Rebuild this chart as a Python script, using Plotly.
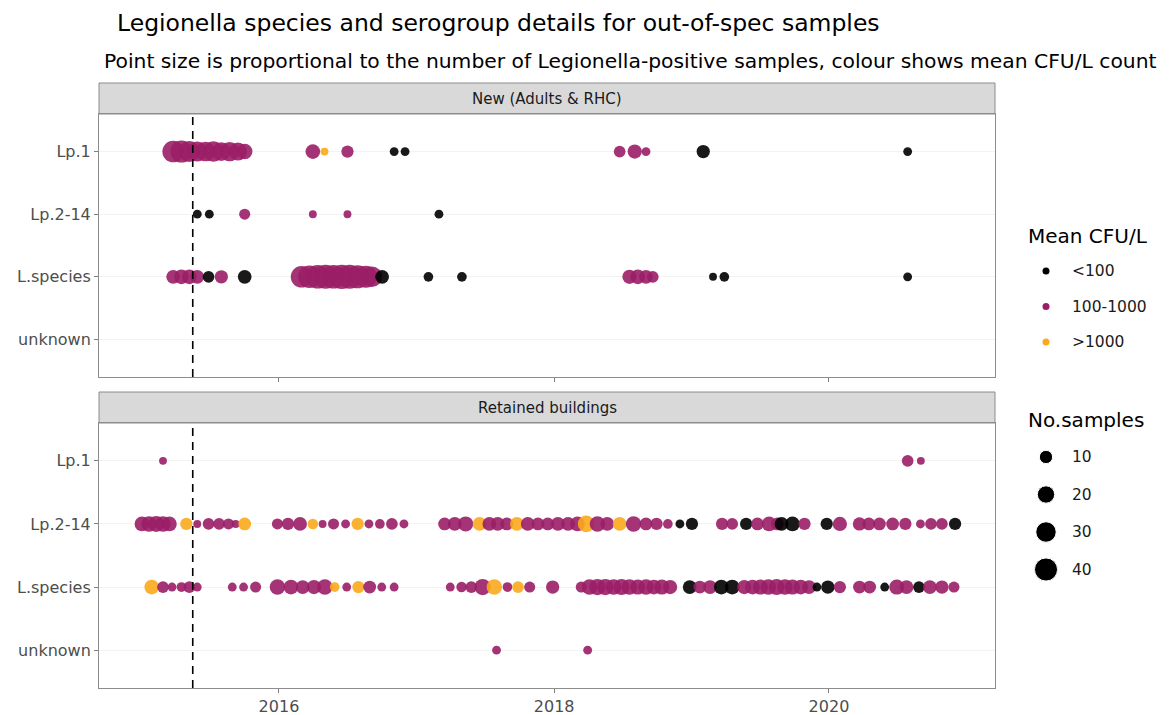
import numpy as np
import plotly.graph_objects as go

# ---------------- data ----------------
L, M, H = "<100", "100-1000", ">1000"
cfu_levels = [L, M, H]
species_levels = ["Lp.1", "Lp.2-14", "L.species", "unknown"]
facets = ["New (Adults & RHC)", "Retained buildings"]
size_breaks = [10, 20, 30, 40]
cutoff_date = "2015-05-17"

# New (Adults & RHC)
new_lp1_date = ["2015-03-26", "2015-04-17", "2015-05-08", "2015-05-29", "2015-06-20", "2015-07-11",
                "2015-08-01", "2015-08-23", "2015-09-14", "2015-10-02", "2016-03-31", "2016-05-01",
                "2016-07-01", "2016-11-02", "2016-12-01", "2018-06-24", "2018-08-03", "2018-09-02",
                "2019-02-01", "2020-07-28"]
new_lp1_n = [34, 36, 32, 28, 27, 30, 24, 26, 22, 15, 13, 2, 8, 3, 3, 7, 12, 3, 10, 3]
new_lp1_cfu = [M, M, M, M, M, M, M, M, M, M, M, H, M, L, L, M, M, M, L, L]

new_lp214_date = ["2015-05-29", "2015-06-30", "2015-10-02", "2016-03-31", "2016-07-01", "2017-03-01"]
new_lp214_n = [3, 3, 6, 2, 2, 3]
new_lp214_cfu = [L, L, M, M, M, L]

new_lsp_date = ["2015-03-26", "2015-04-17", "2015-05-08", "2015-05-29", "2015-06-28", "2015-08-01",
                "2015-10-02", "2016-03-01", "2016-03-22", "2016-04-13", "2016-05-04", "2016-05-25",
                "2016-06-16", "2016-07-07", "2016-07-28", "2016-08-19", "2016-09-04", "2016-10-01",
                "2017-02-01", "2017-05-01", "2018-07-20", "2018-08-11", "2018-09-02", "2018-09-20",
                "2019-02-27", "2019-03-29", "2020-07-28"]
new_lsp_n = [11, 13, 13, 11, 7, 10, 11, 34, 38, 42, 44, 42, 45, 44, 40, 36, 30, 11,
             4, 4, 12, 13, 11, 7, 2, 4, 3]
new_lsp_cfu = [M, M, M, M, L, M, L, M, M, M, M, M, M, M, M, M, M, L,
               L, L, M, M, M, M, L, L, L]

# Retained buildings
ret_lp1_date = ["2015-02-27", "2020-07-28", "2020-09-01"]
ret_lp1_n = [2, 7, 2]
ret_lp1_cfu = [M, M, M]

ret_lp214_date = ["2015-01-02", "2015-01-21", "2015-02-09", "2015-02-27", "2015-03-16", "2015-04-30",
                  "2015-05-29", "2015-06-28", "2015-07-26", "2015-08-20", "2015-09-08", "2015-10-02",
                  "2015-12-28", "2016-01-25", "2016-02-26", "2016-03-31", "2016-04-26", "2016-05-25",
                  "2016-06-26", "2016-07-28", "2016-08-27", "2016-09-25", "2016-10-27", "2016-11-28",
                  "2017-03-16", "2017-04-12", "2017-05-11", "2017-06-17", "2017-07-13", "2017-08-04",
                  "2017-08-28", "2017-09-24", "2017-10-23", "2017-11-19", "2017-12-15", "2018-01-11",
                  "2018-02-07", "2018-03-04", "2018-03-27", "2018-04-26", "2018-05-22", "2018-06-24",
                  "2018-07-31", "2018-09-02", "2018-09-30", "2018-10-30", "2018-12-01", "2019-01-02",
                  "2019-03-23", "2019-04-19", "2019-05-26", "2019-06-25", "2019-07-26", "2019-08-17",
                  "2019-08-28", "2019-09-26", "2019-10-28", "2019-12-26", "2020-01-30", "2020-03-22",
                  "2020-04-16", "2020-05-14", "2020-06-18", "2020-07-22", "2020-08-31", "2020-09-28",
                  "2020-10-27", "2020-12-01"]
ret_lp214_n = [13, 15, 16, 15, 13, 8, 2, 7, 7, 6, 2, 9,
               6, 8, 11, 5, 2, 6, 3, 8, 3, 4, 7, 3,
               9, 11, 14, 11, 11, 11, 9, 11, 11, 9, 9, 11,
               11, 13, 18, 15, 11, 11, 15, 9, 8, 4, 3, 8,
               8, 7, 8, 9, 13, 9, 11, 13, 8, 8, 12, 10,
               9, 9, 9, 8, 3, 7, 7, 8]
ret_lp214_cfu = [M, M, M, M, M, H, M, M, M, M, M, H,
                 M, M, M, H, M, M, M, H, M, M, M, M,
                 M, M, M, H, M, M, M, H, M, M, M, M,
                 M, M, H, M, M, H, M, M, M, M, L, L,
                 M, M, L, M, M, M, L, L, M, L, M, M,
                 M, M, M, M, M, M, M, L]

ret_lsp_date = ["2015-01-28", "2015-02-27", "2015-03-23", "2015-04-17", "2015-05-08", "2015-05-29",
                "2015-08-30", "2015-09-29", "2015-10-31", "2015-12-28", "2016-02-02", "2016-03-04",
                "2016-04-03", "2016-05-02", "2016-05-28", "2016-06-29", "2016-07-30", "2016-08-29",
                "2016-09-30", "2016-11-02",
                "2017-03-31", "2017-04-30", "2017-05-26", "2017-06-25", "2017-07-26", "2017-08-30",
                "2017-09-27", "2017-10-28", "2017-12-28",
                "2018-03-14", "2018-04-05", "2018-04-26", "2018-05-17", "2018-06-08", "2018-06-29",
                "2018-07-20", "2018-08-11", "2018-09-02", "2018-09-23", "2018-10-14", "2018-11-05",
                "2018-12-27", "2019-01-23", "2019-02-19", "2019-03-21", "2019-04-19", "2019-05-21",
                "2019-06-12", "2019-07-03", "2019-07-24", "2019-08-15", "2019-09-06", "2019-09-26",
                "2019-10-18", "2019-11-09", "2019-11-30", "2019-12-29", "2020-01-30", "2020-03-22",
                "2020-04-18", "2020-05-28", "2020-06-29", "2020-07-25", "2020-08-27", "2020-09-25",
                "2020-10-27", "2020-11-28"]
ret_lsp_n = [13, 7, 3, 4, 7, 3, 3, 3, 6, 15, 13, 11, 12, 15, 4, 3, 8, 9, 3, 3,
             3, 5, 7, 17, 15, 4, 7, 6, 10,
             6, 15, 17, 17, 15, 16, 15, 14, 15, 13, 14, 12,
             11, 9, 11, 13, 13, 12, 13, 14, 15, 16, 15, 14,
             13, 11, 3, 10, 8, 9, 9, 3, 14, 11, 7, 11, 10, 6]
ret_lsp_cfu = [H, M, M, M, M, M, M, M, M, M, M, M, M, M, H, M, H, M, M, M,
               M, M, M, M, H, M, H, M, M,
               M, M, M, M, M, M, M, M, M, M, M, M,
               L, M, M, L, L, M, M, M, M, M, M, M,
               M, M, L, L, M, M, M, L, M, M, L, M, M, M]

ret_unk_date = ["2017-08-01", "2018-03-31"]
ret_unk_n = [3, 3]
ret_unk_cfu = [M, M]

groups = [
    (0, "Lp.1", new_lp1_date, new_lp1_n, new_lp1_cfu),
    (0, "Lp.2-14", new_lp214_date, new_lp214_n, new_lp214_cfu),
    (0, "L.species", new_lsp_date, new_lsp_n, new_lsp_cfu),
    (1, "Lp.1", ret_lp1_date, ret_lp1_n, ret_lp1_cfu),
    (1, "Lp.2-14", ret_lp214_date, ret_lp214_n, ret_lp214_cfu),
    (1, "L.species", ret_lsp_date, ret_lsp_n, ret_lsp_cfu),
    (1, "unknown", ret_unk_date, ret_unk_n, ret_unk_cfu),
]

# ---------------- styling ----------------
cfu_colors = {L: "#000000", M: "#9A1E66", H: "#FBA91B"}
FONT = "DejaVu Sans"
OFF = 8                       # page offset of the plot div
W, HGT = 1173 - OFF, 715 - OFF
ML, MR, MT, MB = 99 - OFF, 0, 83 - OFF, 27
PW, PH = W - ML - MR, HGT - MT - MB


def px_x(p):
    """page x pixel -> paper x"""
    return (p - OFF - ML) / PW


def px_y(p):
    """page y pixel -> paper y"""
    return (HGT - MB - (p - OFF)) / PH


def size_scale(n):
    return 3.5 + 3.1 * np.sqrt(n)


ypos = {s: len(species_levels) - 1 - i for i, s in enumerate(species_levels)}

main_dom_x = [0, px_x(995)]
panel_dom = [[px_y(377), px_y(114)], [0, px_y(423)]]
strip_dom = [[px_y(114), px_y(83)], [px_y(423), px_y(392)]]

fig = go.Figure()

for fi, sp, d, n, c in groups:
    ax = "" if fi == 0 else "2"
    fig.add_trace(go.Scatter(
        x=d, y=[ypos[sp]] * len(d), mode="markers",
        marker=dict(size=[size_scale(v) for v in n], color=[cfu_colors[k] for k in c],
                    opacity=0.9, line=dict(width=0)),
        xaxis="x" + ax, yaxis="y" + ax, showlegend=False,
        hovertemplate="%{x}<br>n=%{text}<extra></extra>", text=n,
    ))

axis_common = dict(showline=True, mirror=True, linecolor="#8C8C8C", linewidth=1,
                   ticks="outside", ticklen=4, tickcolor="#7F7F7F",
                   tickfont=dict(family=FONT, size=16, color="#4D4D4D"), zeroline=False)
xrange = ["2014-09-10", "2021-03-17"]
fig.update_layout(
    xaxis=dict(domain=main_dom_x, anchor="y", type="date", range=xrange, showgrid=False,
               showticklabels=False, dtick="M24", tick0="2016-01-01", **axis_common),
    xaxis2=dict(domain=main_dom_x, anchor="y2", type="date", range=xrange, showgrid=False,
                dtick="M24", tick0="2016-01-01", tickformat="%Y", matches="x", **axis_common),
    yaxis=dict(domain=panel_dom[0], anchor="x", range=[-0.6, 3.6],
               tickvals=[ypos[s] for s in species_levels], ticktext=species_levels,
               showgrid=True, gridcolor="#F3F3F3", **axis_common),
    yaxis2=dict(domain=panel_dom[1], anchor="x2", range=[-0.6, 3.6],
                tickvals=[ypos[s] for s in species_levels], ticktext=species_levels,
                showgrid=True, gridcolor="#F3F3F3", **axis_common),
    xaxis3=dict(domain=[px_x(1003), 1.0], anchor="y3", range=[1003, 1173], visible=False),
    yaxis3=dict(domain=[0, 1], anchor="x3", range=[688, 83], visible=False),
)

# cutoff dashed line in both panels
for ax in ["", "2"]:
    fig.add_shape(type="line", xref="x" + ax, yref="y" + ax + " domain",
                  x0=cutoff_date, x1=cutoff_date, y0=0, y1=1,
                  line=dict(color="#000000", width=1.6, dash="8px,6px"))

# facet strips
for i, lab in enumerate(facets):
    fig.add_shape(type="rect", xref="paper", yref="paper", x0=main_dom_x[0], x1=main_dom_x[1],
                  y0=strip_dom[i][0], y1=strip_dom[i][1], fillcolor="#D9D9D9",
                  line=dict(color="#8C8C8C", width=1), layer="below")
    fig.add_annotation(text=lab, xref="paper", yref="paper", x=sum(main_dom_x) / 2,
                       y=sum(strip_dom[i]) / 2, xanchor="center", yanchor="middle",
                       showarrow=False, font=dict(family=FONT, size=15, color="#1A1A1A"))

# titles
fig.add_annotation(text="Legionella species and serogroup details for out-of-spec samples",
                   xref="paper", yref="paper", x=px_x(115), y=px_y(23), xanchor="left",
                   yanchor="middle", showarrow=False,
                   font=dict(family=FONT, size=23.5, color="#000000"))
fig.add_annotation(text="Point size is proportional to the number of Legionella-positive samples, "
                        "colour shows mean CFU/L count",
                   xref="paper", yref="paper", x=px_x(102), y=px_y(61), xanchor="left",
                   yanchor="middle", showarrow=False,
                   font=dict(family=FONT, size=20.3, color="#000000"))

# legends (drawn on a hidden helper axis whose units are page pixels)
key_x, text_x, title_x = 1046, 1070, 1026
col_title_y, col_y0, row_gap = 236, 271, 35.5
fig.add_annotation(text="Mean CFU/L", xref="x3", yref="y3", x=title_x, y=col_title_y,
                   xanchor="left", yanchor="middle", showarrow=False,
                   font=dict(family=FONT, size=20, color="#000000"))
col_rows = [col_y0 + i * row_gap for i in range(len(cfu_levels))]
fig.add_trace(go.Scatter(x=[key_x] * len(cfu_levels), y=col_rows, mode="markers",
                         marker=dict(size=7, color=[cfu_colors[k] for k in cfu_levels], opacity=1),
                         xaxis="x3", yaxis="y3", showlegend=False, hoverinfo="skip"))
for lab, yy in zip(cfu_levels, col_rows):
    fig.add_annotation(text=lab, xref="x3", yref="y3", x=text_x, y=yy, xanchor="left",
                       yanchor="middle", showarrow=False,
                       font=dict(family=FONT, size=15.5, color="#1A1A1A"))

size_title_y, size_y0, size_gap = 420, 457, 37.5
fig.add_annotation(text="No.samples", xref="x3", yref="y3", x=title_x, y=size_title_y,
                   xanchor="left", yanchor="middle", showarrow=False,
                   font=dict(family=FONT, size=20, color="#000000"))
size_rows = [size_y0 + i * size_gap for i in range(len(size_breaks))]
fig.add_trace(go.Scatter(x=[key_x] * len(size_breaks), y=size_rows, mode="markers",
                         marker=dict(size=[size_scale(v) for v in size_breaks], color="#000000",
                                     opacity=1),
                         xaxis="x3", yaxis="y3", showlegend=False, hoverinfo="skip"))
for lab, yy in zip(size_breaks, size_rows):
    fig.add_annotation(text=str(lab), xref="x3", yref="y3", x=text_x, y=yy, xanchor="left",
                       yanchor="middle", showarrow=False,
                       font=dict(family=FONT, size=15.5, color="#1A1A1A"))

fig.update_layout(width=W, height=HGT, margin=dict(l=ML, r=MR, t=MT, b=MB),
                  plot_bgcolor="#FFFFFF", paper_bgcolor="#FFFFFF", showlegend=False,
                  font=dict(family=FONT))

fig.write_html("out.html")
